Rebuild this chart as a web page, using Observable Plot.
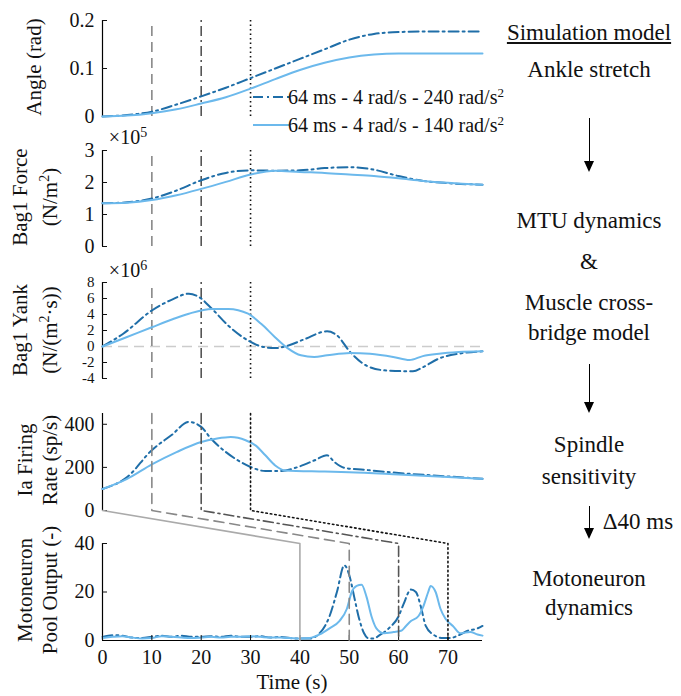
<!DOCTYPE html>
<html><head><meta charset="utf-8">
<script src="https://cdn.jsdelivr.net/npm/d3@7"></script>
<script src="https://cdn.jsdelivr.net/npm/@observablehq/plot@0.6"></script>
<style>
body{margin:0;background:#fff;font-family:'Liberation Serif';}
#c{position:relative;width:681px;height:696px;}
#c svg{position:absolute;left:0;overflow:visible;}
#c svg text{font-family:'Liberation Serif';}
.t{position:absolute;font-size:23px;white-space:nowrap;transform:translate(-50%,-50%);color:#111;}
.yl{position:absolute;font-size:21px;white-space:nowrap;transform:translate(-50%,-50%) rotate(-90deg);color:#111;line-height:1;}
.arrow{position:absolute;width:0;border-left:1.6px solid #000;}
.arrow:after{content:"";position:absolute;left:-6px;bottom:-2px;border-left:5px solid transparent;border-right:5px solid transparent;border-top:11px solid #000;}
</style></head><body><div id="c"></div>
<script>
// time in s
const tAngle = [0,5,10,15,20,25,30,35,40,45,50,55,60,65,77];
const angleFast = [0,0.003,0.01,0.025,0.042,0.06,0.08,0.1,0.12,0.14,0.16,0.172,0.176,0.177,0.177];
const angleSlow = [0,0.002,0.007,0.015,0.027,0.04,0.058,0.078,0.097,0.112,0.123,0.129,0.131,0.131,0.131];

const tForce = [0,5,10,15,20,25,30,35,40,45,50,55,60,65,70,77];
const forceFast = [1.35,1.38,1.5,1.75,2.07,2.3,2.38,2.37,2.38,2.45,2.48,2.4,2.2,2.05,1.98,1.93];
const forceSlow = [1.35,1.37,1.45,1.6,1.8,2.02,2.25,2.37,2.33,2.3,2.25,2.2,2.13,2.05,1.99,1.93];

const tYankFast = [0,4.2,10,14.2,17.5,19.5,22.2,25.5,29.5,32.2,34.9,37.5,40.9,45.5,47.5,50.2,53.5,57.5,62.9,64.9,68.2,72.2,77];
const yankFast = [0,1.6,4.5,5.9,6.6,6.2,4.7,2.6,0.75,0,-0.2,0.1,0.9,1.9,1.4,-0.7,-2.4,-3,-3.1,-2.6,-1.5,-0.9,-0.6];
const tYankSlow = [0,4.2,10,14.2,17.5,22.2,25.5,29.5,32.2,34.9,37.5,40.2,42.9,45.5,50.2,54.2,58.9,62.2,64.9,68.2,72.2,77];
const yankSlow = [0,1,2.4,3.4,4.1,4.7,4.7,4.1,2.8,1.2,-0.2,-1.1,-1.3,-1.1,-0.8,-0.9,-1.3,-1.7,-1.2,-0.9,-0.7,-0.6];

const tIaFast = [0,5,10,14,17.5,20,22,25,28,30,33,36,40,43,45.5,47,49,53,60,70,77];
const iaFast = [100,155,280,350,411,388,333,271,225,202,183,183,205,233,256,225,198,189,174,158,147];
const tIaSlow = [0,5,10,15,20,23,26,29,31,33,35,37,45,50,60,70,77];
const iaSlow = [100,147,214,271,318,333,341,326,302,256,209,186,181,178,167,155,147];

const tMnFast = [0,2,4,6,8,10,12,14,16,18,20,22,24,26,28,30,32,34,36,38,40,42,44,46,47.5,49,50,51,52,53,54,55,56,58,60,61,62.5,63.5,64.5,65.5,67,69,70.5,72,74,76,77];
const mnFast = [1.5,2.2,2,1.2,1,1.5,2,1.5,2,1.5,1.5,1.8,1.5,2,1.5,1.5,1.8,1.2,1.5,1,0.8,0.8,3,10,20,31,27,18,9,3,0.8,0.8,2,5,10,15,21,20,14,6,2.5,1,1,2,4,5,6];
const tMnSlow = [0,2,4,6,8,10,12,14,16,18,20,22,24,26,28,30,32,34,36,38,40,42,44,46,48,49.5,50.5,51.5,52.5,53.5,54.5,55.5,57,59,60.5,61.5,62.5,64,65,66,66.5,67.5,68.5,69.5,71,72.5,74.5,76,77];
const mnSlow = [1,1.5,1.8,1.2,0.8,1,1.8,1.5,1.2,1,1.2,1.5,1.2,1.5,1.5,1.8,1.5,1.2,1.2,1,0.8,1,2.5,5,8,13,20,22.5,23,18,10,5,3,3.5,4,6,8,10,14,20,22.5,20,13,9,6,3,3.5,2.5,2];

const markers = [10, 20, 30];
const delayed = [40, 50, 60, 70];
const legendLabels = ["64 ms - 4 rad/s - 240 rad/s", "64 ms - 4 rad/s - 140 rad/s"];

const FONT = "Liberation Serif";
const dark = "#1f6ea8", light = "#6cb9ec";
const dashDot = "10,4,2,4";
const lineStyles = [
  {stroke: "#aaa", dash: null},
  {stroke: "#888", dash: "10,6"},
  {stroke: "#555", dash: dashDot},
  {stroke: "#111", dash: "1.5,3"}
];
const X0 = 102, X1 = 482, W = 681;
const xs = {domain: [0, 77], range: [X0, X1]};
const pts = (t, v) => t.map((x, i) => ({x, y: v[i]}));
const c = document.getElementById("c");

function panel(cfg) {
  const {top, bottom, domain, ticks, series, zero, vlines, xaxis, fs = 20} = cfg;
  const mb = xaxis ? 40 : 10;
  const marks = [
    Plot.ruleX([0], {y1: domain[0], y2: domain[1], stroke: "#000", strokeWidth: 1.2}),
    Plot.axisY({ticks, tickSize: -5, tickPadding: 13, fontSize: fs, tickFormat: d => d}),
  ];
  if (zero) marks.push(Plot.ruleY([0], {stroke: "#ccc", strokeDasharray: "10,6", strokeWidth: 1.5}));
  if (vlines) markers.forEach((m, i) => marks.push(Plot.ruleX([m], {y1: domain[0], y2: domain[1], stroke: lineStyles[i + 1].stroke, strokeDasharray: lineStyles[i + 1].dash, strokeWidth: 1.6})));
  series.forEach(s => marks.push(Plot.line(s.data, {x: "x", y: "y", stroke: s.c, strokeWidth: 2, strokeDasharray: s.d, curve: "monotone-x"})));
  if (xaxis) {
    marks.push(Plot.ruleY([domain[0]], {stroke: "#000", strokeWidth: 1.2}));
    marks.push(Plot.axisX({ticks: d3.range(0, 80, 10), tickSize: -5, tickPadding: 14, fontSize: 20, label: null}));
  } else marks.push(Plot.axisX({ticks: [], label: null, tickSize: 0}));
  const p = Plot.plot({
    width: W, height: bottom - top + 10 + mb, marginTop: 10, marginBottom: mb,
    marginLeft: X0, marginRight: W - X1,
    style: {fontFamily: FONT, fontSize: "20px", color: "#111", background: "transparent"},
    x: {domain: [0, 77], label: null}, y: {domain, label: null},
    marks
  });
  p.style.top = (top - 10) + "px";
  c.appendChild(p);
}

panel({top: 20, bottom: 116, domain: [0, 0.2], ticks: [0, 0.1, 0.2], vlines: true,
  series: [{data: pts(tAngle, angleFast), c: dark, d: dashDot}, {data: pts(tAngle, angleSlow), c: light}]});
panel({top: 150, bottom: 246, domain: [0, 3], ticks: [0, 1, 2, 3], vlines: true,
  series: [{data: pts(tForce, forceFast), c: dark, d: dashDot}, {data: pts(tForce, forceSlow), c: light}]});
panel({top: 282, bottom: 378, domain: [-4, 8], ticks: [-4, -2, 0, 2, 4, 6, 8], vlines: true, zero: true, fs: 15,
  series: [{data: pts(tYankFast, yankFast), c: dark, d: dashDot}, {data: pts(tYankSlow, yankSlow), c: light}]});
panel({top: 413, bottom: 510, domain: [0, 450], ticks: [0, 200, 400],
  series: [{data: pts(tIaFast, iaFast), c: dark, d: dashDot}, {data: pts(tIaSlow, iaSlow), c: light}]});
panel({top: 543, bottom: 640, domain: [0, 40], ticks: [0, 20, 40], xaxis: true,
  series: [{data: pts(tMnFast, mnFast), c: dark, d: dashDot}, {data: pts(tMnSlow, mnSlow), c: light}]});

// connectors from the Ia panel to the motoneuron panel (y in motoneuron units, extended)
const toV = px => (640 - px) / (640 - 543) * 40;
const p4b = toV(510), p4t = toV(413);
const conn = [];
delayed.forEach((d, i) => {
  const path = i === 0
    ? [{x: 0, y: p4b}, {x: d, y: 40}, {x: d, y: 0}]
    : [{x: markers[i - 1], y: p4t}, {x: markers[i - 1], y: p4b}, {x: d, y: 40}, {x: d, y: 0}];
  conn.push(Plot.line(path, {x: "x", y: "y", stroke: lineStyles[i].stroke, strokeDasharray: lineStyles[i].dash, strokeWidth: 1.6}));
});
const ov = Plot.plot({
  width: W, height: 696, margin: 0, x: {...xs, axis: null}, y: {domain: [0, 40], range: [640, 543], axis: null},
  style: {background: "transparent"}, marks: conn
});
ov.style.top = "0px"; ov.style.pointerEvents = "none";
c.appendChild(ov);

const html = (s, cls, x, y, extra = "") => {
  const d = document.createElement("div"); d.className = cls; d.innerHTML = s;
  d.style.left = x + "px"; d.style.top = y + "px"; d.style.cssText += extra; c.appendChild(d);
};
// y labels
html("Angle (rad)", "yl", 34, 67);
html("Bag1 Force", "yl", 20, 197); html("(N/m<sup style='font-size:14px'>2</sup>)", "yl", 49, 197);
html("Bag1 Yank", "yl", 20, 330); html("(N/(m<sup style='font-size:14px'>2</sup>·s))", "yl", 49, 330);
html("Ia Firing", "yl", 25, 460); html("Rate (sp/s)", "yl", 50, 460);
html("Motoneuron", "yl", 25, 590); html("Pool Output (-)", "yl", 50, 590);
html("×10<sup style='font-size:14px'>5</sup>", "t", 128, 137, "font-size:20px");
html("×10<sup style='font-size:14px'>6</sup>", "t", 128, 270, "font-size:20px");
html("Time (s)", "t", 292, 682, "font-size:21px;line-height:1");

// legend
legendLabels.forEach((l, i) => {
  const y = 97 + i * 28;
  const s = document.createElementNS("http://www.w3.org/2000/svg", "svg");
  s.setAttribute("width", 36); s.setAttribute("height", 6);
  s.style.left = "253px"; s.style.top = (y - 3) + "px";
  s.innerHTML = `<line x1="0" x2="36" y1="3" y2="3" stroke="${i ? light : dark}" stroke-width="2.2" ${i ? "" : `stroke-dasharray="${dashDot}"`}/>`;
  c.appendChild(s);
  html(l + "<sup style='font-size:13px'>2</sup>", "t", 0, y, "font-size:20px;transform:translate(0,-50%);left:288px");
});

// flow description
html("<u>Simulation model</u>", "t", 589, 33);
html("Ankle stretch", "t", 589, 70);
html("MTU dynamics", "t", 589, 221);
html("&amp;", "t", 589, 262);
html("Muscle cross-", "t", 589, 303);
html("bridge model", "t", 589, 333);
html("Spindle", "t", 589, 445);
html("sensitivity", "t", 589, 477);
html("Δ40 ms", "t", 638, 522);
html("Motoneuron", "t", 589, 579);
html("dynamics", "t", 589, 608);
[[118, 170], [364, 411], [506, 537]].forEach(([a, b]) => {
  const d = document.createElement("div"); d.className = "arrow";
  d.style.left = "589px"; d.style.top = a + "px"; d.style.height = (b - a) + "px"; c.appendChild(d);
});
</script></body></html>
